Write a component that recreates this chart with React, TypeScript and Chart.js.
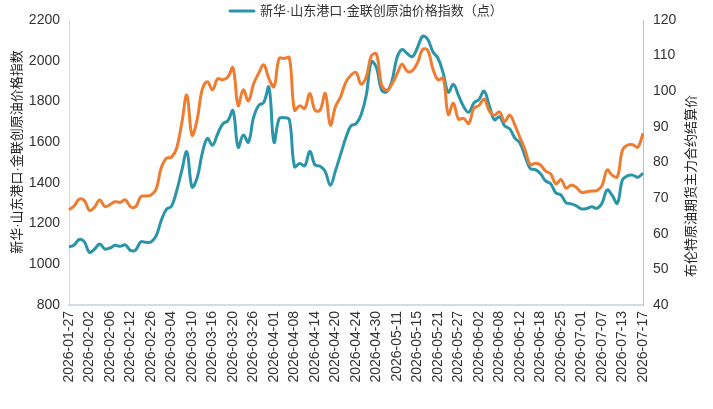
import React, { useEffect, useRef } from 'react';
import { Chart, registerables } from 'chart.js';

Chart.register(...registerables);

const dates = [
  '2026-01-27', '2026-01-28', '2026-01-29', '2026-01-30', '2026-02-02', '2026-02-03', '2026-02-04', '2026-02-05',
  '2026-02-06', '2026-02-09', '2026-02-10', '2026-02-11', '2026-02-12', '2026-02-13', '2026-02-24', '2026-02-25',
  '2026-02-26', '2026-02-27', '2026-03-02', '2026-03-03', '2026-03-04', '2026-03-05', '2026-03-06', '2026-03-09',
  '2026-03-10', '2026-03-11', '2026-03-12', '2026-03-13', '2026-03-16', '2026-03-17', '2026-03-18', '2026-03-19',
  '2026-03-20', '2026-03-23', '2026-03-24', '2026-03-25', '2026-03-26', '2026-03-27', '2026-03-30', '2026-03-31',
  '2026-04-01', '2026-04-02', '2026-04-03', '2026-04-07', '2026-04-08', '2026-04-09', '2026-04-10', '2026-04-13',
  '2026-04-14', '2026-04-15', '2026-04-16', '2026-04-17', '2026-04-20', '2026-04-21', '2026-04-22', '2026-04-23',
  '2026-04-24', '2026-04-27', '2026-04-28', '2026-04-29', '2026-04-30', '2026-05-06', '2026-05-07', '2026-05-08',
  '2026-05-11', '2026-05-12', '2026-05-13', '2026-05-14', '2026-05-15', '2026-05-18', '2026-05-19', '2026-05-20',
  '2026-05-21', '2026-05-22', '2026-05-25', '2026-05-26', '2026-05-27', '2026-05-28', '2026-05-29', '2026-06-01',
  '2026-06-02', '2026-06-03', '2026-06-04', '2026-06-05', '2026-06-08', '2026-06-09', '2026-06-10', '2026-06-11',
  '2026-06-12', '2026-06-15', '2026-06-16', '2026-06-17', '2026-06-18', '2026-06-22', '2026-06-23', '2026-06-24',
  '2026-06-25', '2026-06-26', '2026-06-29', '2026-06-30', '2026-07-01', '2026-07-02', '2026-07-03', '2026-07-06',
  '2026-07-07', '2026-07-08', '2026-07-09', '2026-07-10', '2026-07-13', '2026-07-14', '2026-07-15', '2026-07-16',
  '2026-07-17',
];

const xinhuaIndex = [
  1085, 1095, 1122, 1110, 1058, 1075, 1100, 1075, 1080, 1093, 1088, 1095, 1068, 1070, 1110, 1108,
  1110, 1140, 1215, 1270, 1285, 1360, 1460, 1553, 1380, 1425, 1545, 1618, 1585, 1640, 1690, 1705,
  1755, 1575, 1635, 1600, 1720, 1780, 1795, 1870, 1600, 1715, 1720, 1710, 1480, 1495, 1484, 1555,
  1488, 1482, 1455, 1388, 1460, 1540, 1620, 1680, 1690, 1735, 1830, 1995, 1965, 1855, 1848, 1900,
  2015, 2055, 2035, 2020, 2065, 2120, 2105, 2044, 2012, 1940, 1845, 1884, 1830, 1775, 1747, 1792,
  1810, 1850, 1780, 1710, 1725, 1680, 1665, 1620, 1595, 1530, 1470, 1465, 1445, 1410, 1395, 1350,
  1340, 1302, 1297, 1287, 1272, 1274, 1283, 1275, 1300, 1365, 1338, 1300, 1415, 1435, 1438, 1428,
  1447,
];

const brentPrice = [
  66.7, 67.8, 69.7, 69.3, 66.5, 67.5, 69.5, 67.6, 68.2, 69.0, 68.8, 69.5, 67.6, 67.6, 70.4, 70.6,
  70.9, 72.5, 78.5, 81.2, 81.5, 84.0, 91.0, 98.9, 87.7, 92.0, 100.5, 102.7, 100.4, 103.5, 103.2, 104.0,
  106.6, 96.0, 100.4, 97.3, 102.0, 105.0, 107.4, 103.6, 101.3, 109.2, 109.2, 109.4, 94.7, 95.9, 95.2, 99.4,
  94.7, 94.7, 99.4, 90.5, 95.7, 98.5, 102.5, 104.5, 105.3, 102.0, 104.0, 110.0, 110.4, 101.8, 100.3, 102.0,
  104.8, 107.6, 105.6, 105.8, 108.0, 111.7, 111.5, 106.3, 103.2, 103.7, 93.5, 96.6, 92.2, 92.4, 91.0, 95.2,
  96.0, 97.8, 94.5, 93.3, 94.2, 91.5, 93.3, 90.5, 87.0, 83.5, 79.4, 79.8, 79.3, 77.6, 76.8, 74.0,
  75.2, 72.8, 73.7, 73.0, 71.6, 71.8, 72.0, 72.1, 73.5, 77.9, 76.4, 76.0, 83.5, 84.9, 85.0, 84.3,
  88.2,
];

const leftTitle = '新华·山东港口·金联创原油价格指数';
const rightTitle = '布伦特原油期货主力合约结算价';
const legendText = '新华·山东港口·金联创原油价格指数（点）';

const TEAL = '#2a95a8';
const ORANGE = '#ef7d31';
const FONT = '"Liberation Sans", "Noto Sans CJK SC", sans-serif';

const overlayPlugin = {
  id: 'overlay',
  afterDraw(chart: any) {
    const ctx = chart.ctx;
    ctx.save();
    ctx.font = '13px ' + FONT;
    ctx.fillStyle = '#222';
    ctx.textAlign = 'center';
    ctx.textBaseline = 'middle';

    ctx.save();
    ctx.translate(17, 152);
    ctx.rotate(-Math.PI / 2);
    ctx.fillText(leftTitle, 0, 0);
    ctx.restore();

    ctx.save();
    ctx.translate(691, 186);
    ctx.rotate(-Math.PI / 2);
    ctx.fillText(rightTitle, 0, 0);
    ctx.restore();

    // legend
    ctx.strokeStyle = TEAL;
    ctx.lineWidth = 3;
    ctx.lineCap = 'round';
    ctx.beginPath();
    ctx.moveTo(230, 11);
    ctx.lineTo(254, 11);
    ctx.stroke();
    ctx.fillStyle = '#333';
    ctx.textAlign = 'left';
    ctx.fillText(legendText, 260, 11);
    ctx.restore();
  },
};

export default function App() {
  const canvasRef = useRef<HTMLCanvasElement | null>(null);

  useEffect(() => {
    if (!canvasRef.current) return;
    const chart = new Chart(canvasRef.current, {
      type: 'line',
      data: {
        labels: dates,
        datasets: [
          {
            label: legendText,
            data: xinhuaIndex,
            borderColor: TEAL,
            backgroundColor: TEAL,
            borderWidth: 3,
            pointRadius: 0,
            tension: 0.4,
            yAxisID: 'y',
            order: 1,
          },
          {
            label: rightTitle,
            data: brentPrice,
            borderColor: ORANGE,
            backgroundColor: ORANGE,
            borderWidth: 3,
            pointRadius: 0,
            tension: 0.4,
            yAxisID: 'y1',
            order: 0,
          },
        ],
      },
      options: {
        animation: false,
        responsive: true,
        maintainAspectRatio: false,
        layout: { padding: { top: 20, left: 0, right: 0, bottom: 0 } },
        plugins: {
          legend: { display: false },
          tooltip: { enabled: false },
        },
        scales: {
          x: {
            type: 'category',
            grid: { display: false, drawTicks: false },
            border: { display: true, color: '#d3dce8', width: 2 },
            ticks: {
              autoSkip: false,
              minRotation: 90,
              maxRotation: 90,
              padding: 6,
              color: '#333',
              font: { size: 14, family: FONT },
              callback: function (this: any, value: any, index: number) {
                return index % 4 === 0 ? dates[index] : '';
              },
            },
            afterFit: (scale: any) => {
              scale.height = 104;
            },
          },
          y: {
            position: 'left',
            min: 800,
            max: 2200,
            grid: { display: false, drawTicks: false },
            border: { display: true, color: '#d6d9de', width: 1 },
            ticks: {
              stepSize: 200,
              padding: 9,
              color: '#333',
              font: { size: 14, family: FONT },
              callback: (value: any) => String(value),
            },
            afterFit: (scale: any) => {
              scale.width = 69;
            },
          },
          y1: {
            position: 'right',
            min: 40,
            max: 120,
            grid: { display: false, drawTicks: false },
            border: { display: true, color: '#bfc3c8', width: 1 },
            ticks: {
              stepSize: 10,
              padding: 10,
              color: '#333',
              font: { size: 14, family: FONT },
              callback: (value: any) => String(value),
            },
            afterFit: (scale: any) => {
              scale.width = 70;
            },
          },
        },
      },
      plugins: [overlayPlugin],
    });
    return () => chart.destroy();
  }, []);

  return (
    <div style={{ position: 'absolute', left: 0, top: 0, width: 713, height: 409, background: '#fff' }}>
      <canvas ref={canvasRef} />
    </div>
  );
}
